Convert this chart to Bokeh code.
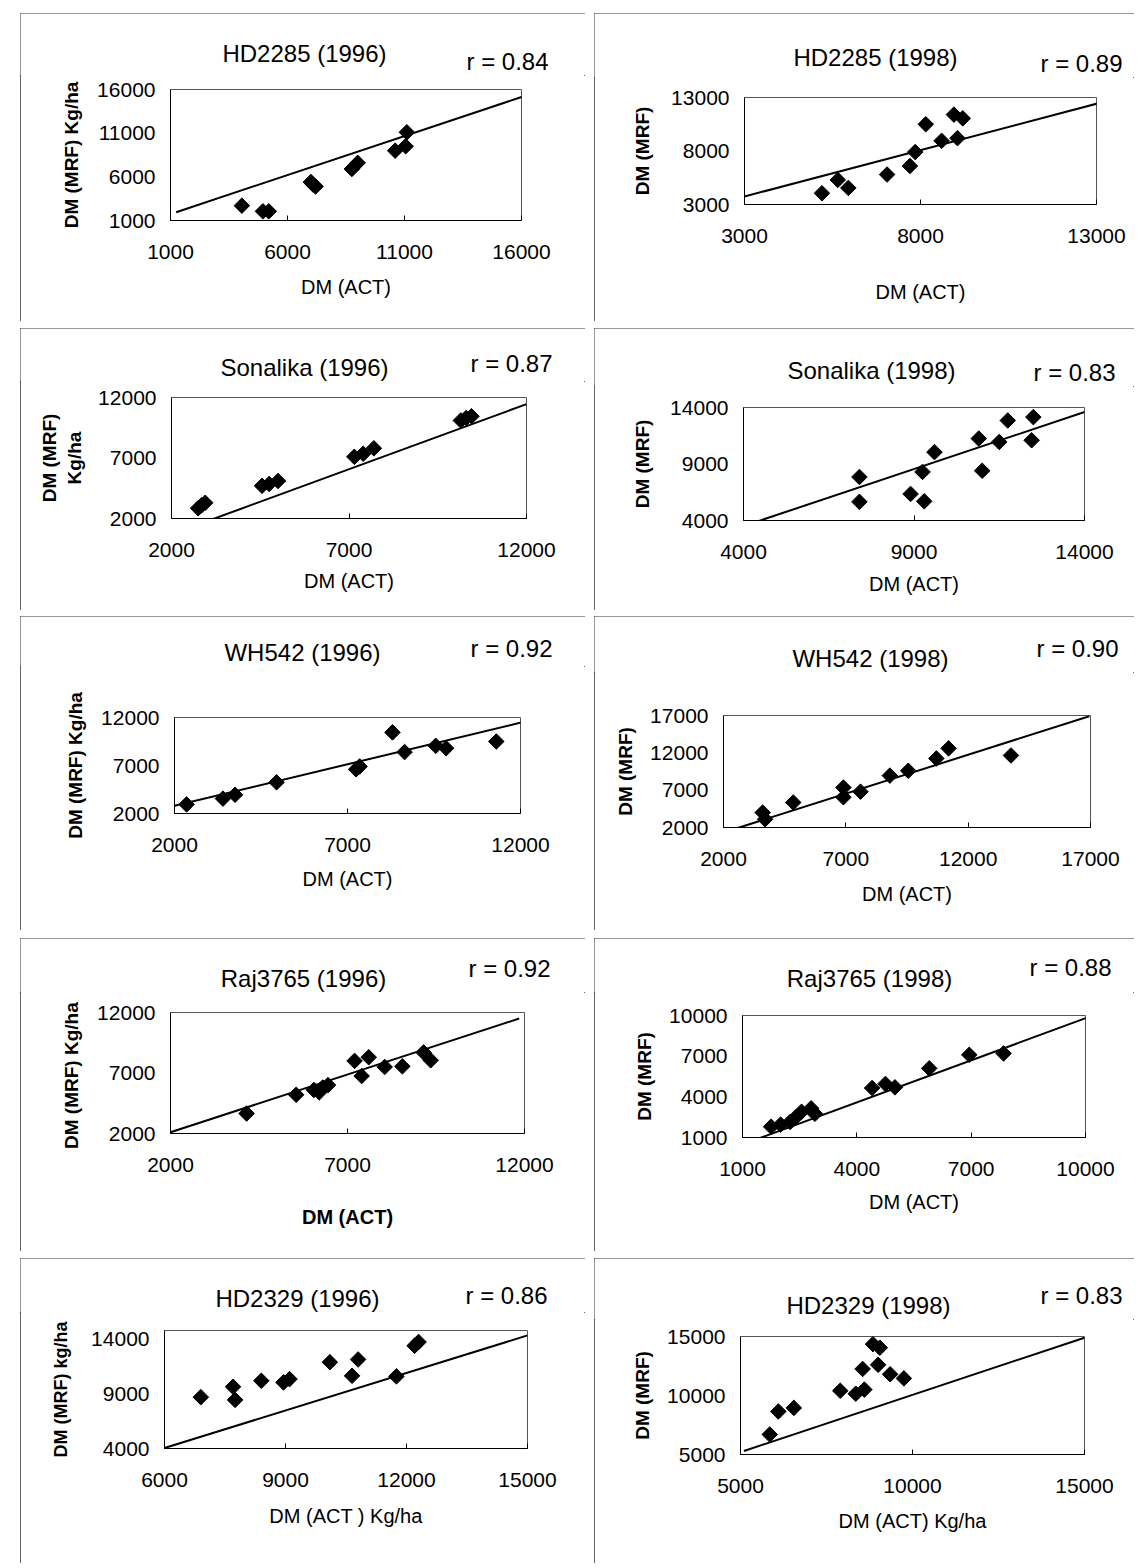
import math
from bokeh.plotting import figure
from bokeh.models import Range1d, FixedTicker, ColumnDataSource, Spacer
from bokeh.core.properties import value
from bokeh.layouts import row, column
from bokeh.embed import file_html
from bokeh.resources import INLINE

FONT = "Liberation Sans"

# ---------------- data ----------------
# HD2285 (1996)
hd2285_96_act = [4050, 4950, 5200, 7000, 7100, 7200, 8750, 9000, 10600, 11050, 11100]
hd2285_96_mrf = [2700, 2050, 2050, 5400, 5100, 4900, 6900, 7600, 9000, 9500, 11100]
hd2285_96_line_act = [1240, 16240]
hd2285_96_line_mrf = [1950, 15350]
hd2285_96_ticks = [1000, 6000, 11000, 16000]

# HD2285 (1998)
hd2285_98_act = [5200, 5650, 5950, 7050, 7700, 7850, 8150, 8600, 9050, 8950, 9200]
hd2285_98_mrf = [4050, 5300, 4550, 5800, 6600, 7900, 10500, 8950, 9200, 11400, 11050]
hd2285_98_line_act = [3000, 13100]
hd2285_98_line_mrf = [3750, 12500]
hd2285_98_ticks = [3000, 8000, 13000]

# Sonalika (1996)
sonalika_96_act = [2750, 2850, 2950, 4550, 4750, 5000, 7150, 7400, 7700, 10150, 10300, 10450]
sonalika_96_mrf = [2850, 3100, 3300, 4700, 4850, 5100, 7100, 7350, 7800, 10100, 10300, 10450]
sonalika_96_line_act = [3100, 12000]
sonalika_96_line_mrf = [1880, 11450]
sonalika_96_ticks = [2000, 7000, 12000]

# Sonalika (1998)
sonalika_98_act = [7400, 7400, 8900, 9250, 9300, 9600, 10900, 11000, 11500, 11750, 12500, 12450]
sonalika_98_mrf = [7850, 5650, 6350, 8300, 5700, 10050, 11250, 8400, 10950, 12850, 13150, 11100]
sonalika_98_line_act = [4340, 14000]
sonalika_98_line_mrf = [3850, 13600]
sonalika_98_ticks = [4000, 9000, 14000]

# WH542 (1996)
wh542_96_act = [2350, 3400, 3750, 4950, 7250, 7350, 8300, 8650, 9550, 9850, 11300]
wh542_96_mrf = [2950, 3550, 3950, 5250, 6600, 6900, 10450, 8400, 9050, 8800, 9500]
wh542_96_line_act = [2000, 12050]
wh542_96_line_mrf = [2800, 11500]
wh542_96_ticks = [2000, 7000, 12000]

# WH542 (1998)
wh542_98_act = [3600, 3700, 4850, 6900, 6900, 7600, 8800, 9550, 10700, 11200, 13750]
wh542_98_mrf = [4000, 3100, 5350, 7350, 6050, 6800, 8950, 9600, 11250, 12600, 11650]
wh542_98_line_act = [2450, 16950]
wh542_98_line_mrf = [1800, 16900]
wh542_98_ticks = [2000, 7000, 12000, 17000]

# Raj3765 (1996)
raj3765_96_act = [4150, 5550, 6050, 6200, 6300, 6450, 7200, 7400, 7600, 8050, 8550, 9150, 9350]
raj3765_96_mrf = [3650, 5200, 5600, 5400, 5800, 6000, 8000, 6750, 8300, 7500, 7550, 8700, 8050]
raj3765_96_line_act = [2000, 11850]
raj3765_96_line_mrf = [2100, 11500]
raj3765_96_ticks = [2000, 7000, 12000]

# Raj3765 (1998)
raj3765_98_act = [1750, 2000, 2250, 2400, 2550, 2800, 2900, 4400, 4750, 5000, 5900, 6950, 7850]
raj3765_98_mrf = [1800, 1950, 2150, 2500, 2900, 3150, 2750, 4650, 4950, 4700, 6100, 7100, 7200]
raj3765_98_line_act = [1300, 10050]
raj3765_98_line_mrf = [800, 9850]
raj3765_98_ticks = [1000, 4000, 7000, 10000]

# HD2329 (1996)
hd2329_96_act = [6900, 7700, 7750, 8400, 8950, 9100, 10100, 10650, 10800, 11750, 12200, 12300]
hd2329_96_mrf = [8700, 9650, 8450, 10200, 10050, 10350, 11900, 10650, 12150, 10600, 13400, 13750]
hd2329_96_line_act = [6000, 15000]
hd2329_96_line_mrf = [4050, 14350]
hd2329_96_xticks = [6000, 9000, 12000, 15000]
hd2329_96_yticks = [4000, 9000, 14000]

# HD2329 (1998)
hd2329_98_act = [5850, 6100, 6550, 7900, 8350, 8600, 8550, 8850, 9050, 9000, 9350, 9750]
hd2329_98_mrf = [6700, 8650, 8950, 10400, 10150, 10500, 12250, 14350, 14050, 12600, 11800, 11450]
hd2329_98_line_act = [5100, 15000]
hd2329_98_line_mrf = [5300, 14900]
hd2329_98_ticks = [5000, 10000, 15000]

titles = ["HD2285 (1996)", "HD2285 (1998)", "Sonalika (1996)", "Sonalika (1998)",
          "WH542 (1996)", "WH542 (1998)", "Raj3765 (1996)", "Raj3765 (1998)",
          "HD2329 (1996)", "HD2329 (1998)"]
r_values = ["0.84", "0.89", "0.87", "0.83", "0.92", "0.90", "0.92", "0.88", "0.86", "0.83"]
x_labels = ["DM (ACT)"] * 8 + ["DM (ACT ) Kg/ha", "DM (ACT) Kg/ha"]
y_labels = ["DM (MRF) Kg/ha", "DM (MRF)", "DM (MRF)\nKg/ha", "DM (MRF)", "DM (MRF) Kg/ha",
            "DM (MRF)", "DM (MRF)  Kg/ha", "DM (MRF)", "DM (MRF) kg/ha", "DM (MRF)"]

panels_data = [
    (hd2285_96_act, hd2285_96_mrf, hd2285_96_line_act, hd2285_96_line_mrf, hd2285_96_ticks, hd2285_96_ticks, (1000, 16000), (1000, 16000)),
    (hd2285_98_act, hd2285_98_mrf, hd2285_98_line_act, hd2285_98_line_mrf, hd2285_98_ticks, hd2285_98_ticks, (3000, 13000), (3000, 13000)),
    (sonalika_96_act, sonalika_96_mrf, sonalika_96_line_act, sonalika_96_line_mrf, sonalika_96_ticks, sonalika_96_ticks, (2000, 12000), (2000, 12000)),
    (sonalika_98_act, sonalika_98_mrf, sonalika_98_line_act, sonalika_98_line_mrf, sonalika_98_ticks, sonalika_98_ticks, (4000, 14000), (4000, 14000)),
    (wh542_96_act, wh542_96_mrf, wh542_96_line_act, wh542_96_line_mrf, wh542_96_ticks, wh542_96_ticks, (2000, 12000), (2000, 12000)),
    (wh542_98_act, wh542_98_mrf, wh542_98_line_act, wh542_98_line_mrf, wh542_98_ticks, wh542_98_ticks, (2000, 17000), (2000, 17000)),
    (raj3765_96_act, raj3765_96_mrf, raj3765_96_line_act, raj3765_96_line_mrf, raj3765_96_ticks, raj3765_96_ticks, (2000, 12000), (2000, 12000)),
    (raj3765_98_act, raj3765_98_mrf, raj3765_98_line_act, raj3765_98_line_mrf, raj3765_98_ticks, raj3765_98_ticks, (1000, 10000), (1000, 10000)),
    (hd2329_96_act, hd2329_96_mrf, hd2329_96_line_act, hd2329_96_line_mrf, hd2329_96_xticks, hd2329_96_yticks, (6000, 15000), (4000, 14800)),
    (hd2329_98_act, hd2329_98_mrf, hd2329_98_line_act, hd2329_98_line_mrf, hd2329_98_ticks, hd2329_98_ticks, (5000, 15000), (5000, 15000)),
]

# ---------------- layout (pixels) ----------------
col_w = [565, 540]
row_h = [308, 282, 314, 313, 305]
# (frame_left, frame_w, frame_top, frame_h) inside each panel box
frames = [
    (150, 351, 76, 131), (150, 352, 84, 107),
    (151, 355, 69, 121), (149, 341, 79, 113),
    (154, 346, 101, 96), (129, 367, 99, 112),
    (150, 354, 74, 121), (148, 343, 77, 122),
    (144, 363, 72, 118), (146, 344, 78, 118),
]
# heading positions inside the box: title centre (x, y), r label left x and centre y
title_xy = [(284, 40), (281, 44), (284, 39), (277, 42), (282, 36),
            (276, 42), (283, 40), (275, 40), (277, 40), (274, 47)]
r_xy = [(446, 48), (446, 50), (450, 35), (439, 44), (450, 32),
        (442, 32), (448, 30), (435, 29), (445, 37), (446, 37)]
xlab_standoff = [14, 35, 10, 11, 13, 14, 31, 12, 15, 14]
ylab_standoff = [12, 15, 10, 14, 12, 11, 12, 11, 17, 11]
ylab_size = ["19px"] * 8 + ["18px", "19px"]


def strip_height(i):
    return max(title_xy[i][1], r_xy[i][1]) + 14


def make_strip(i, W, SH):
    s = figure(width=W, height=SH, output_backend="svg", toolbar_location=None,
               x_range=Range1d(0, W), y_range=Range1d(SH, 0),
               x_axis_type=None, y_axis_type=None, title=None,
               min_border_left=0, min_border_right=0, min_border_top=0, min_border_bottom=0)
    s.outline_line_color = None
    s.background_fill_color = "white"
    s.border_fill_color = "white"
    s.xgrid.visible = False
    s.ygrid.visible = False
    tx, ty = title_xy[i]
    rx, ry = r_xy[i]
    s.text(x=[tx], y=[ty], text=[titles[i]], text_font=value(FONT), text_font_size=value("24px"),
           text_align="center", text_baseline="middle", text_color="black")
    s.text(x=[rx], y=[ry], text=["r = " + r_values[i]], text_font=value(FONT),
           text_font_size=value("24px"), text_align="left", text_baseline="middle",
           text_color="black")
    return s


def make_panel(i):
    act, mrf, lx, ly, xt, yt, xr, yr = panels_data[i]
    fl, fw, ft, fh = frames[i]
    W = col_w[i % 2]
    SH = strip_height(i)
    H = row_h[i // 2] - SH
    top = ft - SH
    p = figure(width=W, height=H, output_backend="svg", toolbar_location=None, title=None,
               x_range=Range1d(*xr), y_range=Range1d(*yr),
               min_border_left=fl, min_border_right=W - fl - fw,
               min_border_top=top, min_border_bottom=H - top - fh)
    p.background_fill_color = "white"
    p.border_fill_color = "white"
    p.outline_line_color = "#555555"
    p.outline_line_width = 1
    p.xgrid.visible = False
    p.ygrid.visible = False

    p.line(lx, ly, line_color="black", line_width=2)
    src = ColumnDataSource(dict(act=act, mrf=mrf))
    p.scatter("act", "mrf", source=src, marker="square", angle=math.pi / 4,
              size=11, fill_color="black", line_color="black")

    xa = p.xaxis[0]
    ya = p.yaxis[0]
    xa.ticker = FixedTicker(ticks=xt)
    ya.ticker = FixedTicker(ticks=yt)
    for ax in (xa, ya):
        ax.axis_line_color = "black"
        ax.major_label_text_font = FONT
        ax.major_label_text_font_size = "21px"
        ax.major_label_text_color = "black"
        ax.axis_label_text_font = FONT
        ax.axis_label_text_color = "black"
        ax.minor_tick_line_color = None
    xa.major_tick_in = 5
    xa.major_tick_out = 0
    ya.major_tick_in = 0
    ya.major_tick_out = 0
    xa.major_label_standoff = 24
    ya.major_label_standoff = 15
    xa.axis_label = x_labels[i]
    xa.axis_label_text_font_size = "20px"
    xa.axis_label_text_font_style = "bold" if i == 6 else "normal"
    xa.axis_label_standoff = xlab_standoff[i]
    ya.axis_label = y_labels[i]
    ya.axis_label_text_font_size = ylab_size[i]
    ya.axis_label_text_font_style = "bold"
    ya.axis_label_standoff = ylab_standoff[i]

    strip = make_strip(i, W, SH)
    box = column(column(strip), column(p),
                 styles={"outline": "1px solid #333333", "outline-offset": "-1px"})
    return box


boxes = [make_panel(i) for i in range(10)]

gaps = [7, 6, 8, 7]
items = [Spacer(height=13, width=10)]
for k in range(5):
    items.append(row(Spacer(width=20, height=10), boxes[2 * k], Spacer(width=9, height=10), boxes[2 * k + 1]))
    if k < 4:
        items.append(Spacer(height=gaps[k], width=10))
layout = column(*items)

open("out.html", "w").write(file_html(layout, INLINE))
